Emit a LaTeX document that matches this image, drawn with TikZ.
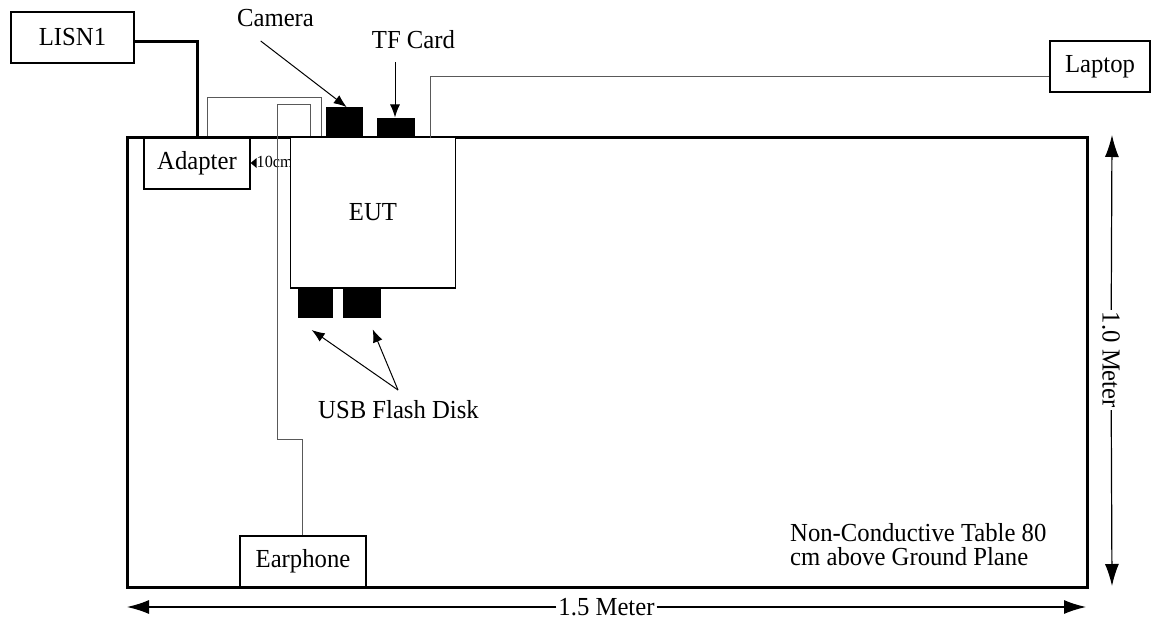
\documentclass[tikz,border=0pt]{standalone}
\usepackage{fontspec}
\setmainfont{Liberation Serif}[FakeStretch=0.95]
\usetikzlibrary{arrows.meta}
\newcommand\lblfont{\fontsize{26}{24}\selectfont}
\newcommand\smallfont{\fontsize{17}{18}\selectfont}
\begin{document}
\begin{tikzpicture}[x=1pt,y=-1pt,
  box/.style={draw, line width=1.2pt, fill=white, inner sep=0pt, font=\lblfont},
  blk/.style={fill=black, inner sep=0pt},
  lbl/.style={inner sep=0pt, font=\lblfont},
  wire/.style={draw=black!65, line width=1pt},
  pwr/.style={line width=3pt},
  arr/.style={line width=1pt, -{Latex[length=13pt,width=10pt]}},
  dim/.style={line width=1.2pt, -{Latex[length=22pt,width=14pt]}},
  dimlbl/.style={fill=white, inner sep=2pt, font=\lblfont}]
\useasboundingbox (0,0) rectangle (1152,621);
% table
\draw[line width=3pt] (127,137) rectangle (1087,587);
% nodes
\node[box, minimum width=123pt, minimum height=51pt] (LISN) at (72.5,37.5) {LISN1};
\node[box, fill=none, minimum width=106pt, minimum height=52pt] (Adapter) at (197,163) {Adapter};
% power cable
\draw[pwr] ([yshift=-3.5pt]LISN.east) -| (Adapter.north);
% 10cm marker
\fill (Adapter.east) -- ++(6,-5) -- ++(0,10) -- cycle;
\node[inner sep=0pt, font=\smallfont, anchor=base west] (tencm) at (256.5,167.5) {10cm};
% wires
\draw[wire] ([xshift=-43pt]Adapter.north east) -- ++(0,-39) -| (321.7,137);
\node[box, minimum width=165pt, minimum height=151pt] (EUT) at (373,212.5) {EUT};
\node[box, minimum width=126pt, minimum height=51pt] (Earphone) at (303,561.5) {Earphone};
\node[box, minimum width=100pt, minimum height=51pt] (Laptop) at (1100,66.5) {Laptop};
\draw[wire] ([xshift=-0.5pt]Earphone.north) |- (277.7,439) -- (277.7,104.3) -| ([xshift=20.5pt]EUT.north west);
\draw[wire] ([xshift=-26pt,yshift=-2pt]EUT.north east) |- ([yshift=-9.5pt]Laptop.west);
% black ports
\node[blk, minimum width=37.3pt, minimum height=29.7pt] (Camera) at (344.7,122.2) {};
\node[blk, minimum width=37.7pt, minimum height=19.3pt] (TF) at (396.2,127.3) {};
\node[blk, minimum width=35pt, minimum height=30pt] (USBa) at (315.5,303) {};
\node[blk, minimum width=38pt, minimum height=30pt] (USBb) at (362,303) {};
% labels and pointers
\node[lbl, anchor=base] (camlbl) at (275.5,27) {Camera};
\node[lbl, anchor=base] (tflbl) at (413.5,48) {TF Card};
\node[lbl, anchor=base] (usblbl) at (398.5,418) {USB Flash Disk};
\coordinate (camsrc) at (260.7,41);
\coordinate (tfsrc) at (395,62);
\coordinate (usbsrc) at (398,390);
\coordinate (usbtipa) at (311.7,330);
\coordinate (usbtipb) at (372.7,329.3);
\draw[arr] (camsrc) -- ([xshift=2pt]Camera.north);
\draw[arr] (tfsrc) -- (tfsrc |- TF.north);
\draw[arr] (usbsrc) -- (usbtipa);
\draw[arr] (usbsrc) -- (usbtipb);
\node[lbl, anchor=west, align=left] (nc) at (790,544.5) {Non-Conductive Table 80\\cm above Ground Plane};
% dimensions
\coordinate (vt) at (1112,135);
\coordinate (vb) at (1112,586);
\node[dimlbl, rotate=-90] (vlbl) at (1111,360) {1.0 Meter};
\draw[dim] (vlbl) -- (vt);
\draw[dim] (vlbl) -- (vb);
\coordinate (hl) at (127,607);
\coordinate (hr) at (1086,607);
\node[dimlbl] (hlbl) at (606.5,607) {1.5 Meter};
\draw[dim] (hlbl) -- (hl);
\draw[dim] (hlbl) -- (hr);
\end{tikzpicture}
\end{document}
